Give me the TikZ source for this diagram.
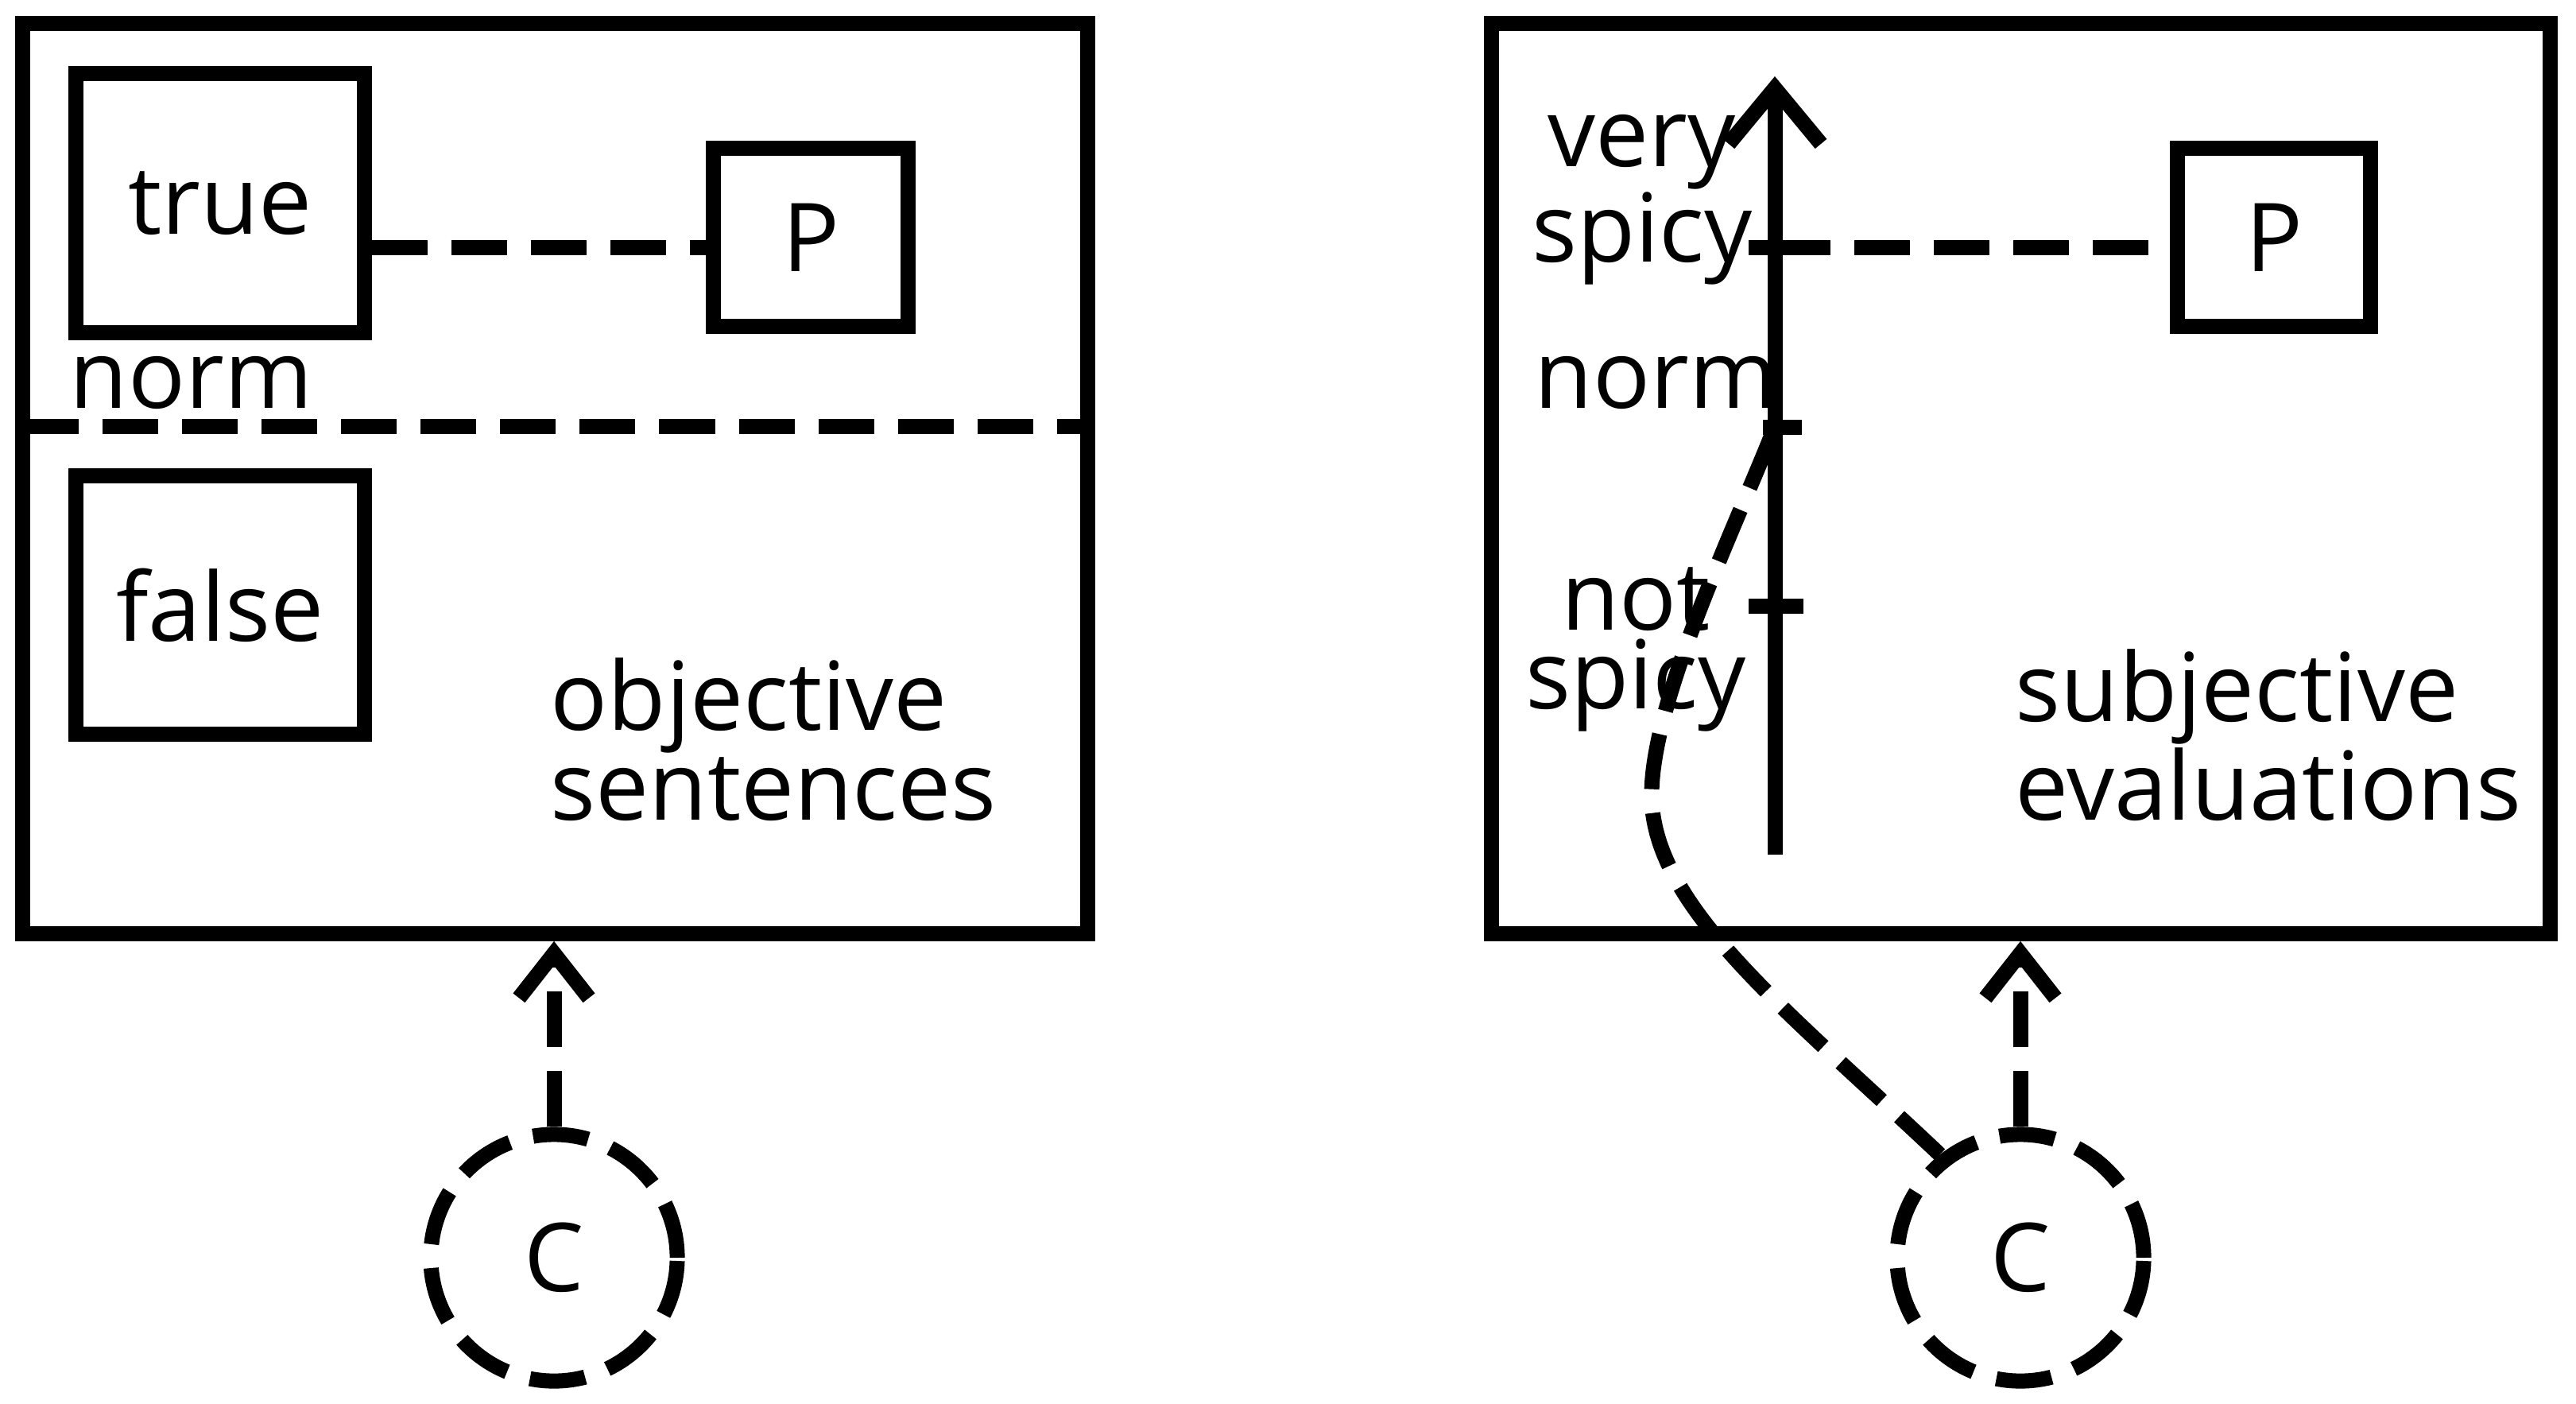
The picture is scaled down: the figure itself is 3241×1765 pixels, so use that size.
\documentclass[tikz,border=0pt]{standalone}
\usepackage{fontspec}
\setmainfont{Open Sans}
\usetikzlibrary{arrows.meta}
\begin{document}
\begin{tikzpicture}[x=0.01cm,y=-0.01cm,
  lw/.style={line width=0.19cm},
  box/.style={draw,lw,inner sep=0pt},
  dsh/.style={lw,dash pattern=on 0.7cm off 0.3cm},
  lab/.style={font=\fontsize{34}{32}\selectfont,inner sep=0pt},
  labt/.style={font=\fontsize{34}{28}\selectfont,inner sep=0pt},
  arr/.style={-{Straight Barb[length=0.56cm,width=0.88cm]}},
  axarr/.style={-{Straight Barb[length=0.7cm,width=1.16cm]}}]
\useasboundingbox (0,0) rectangle (3241,1765);
% left panel
\node[box,minimum width=13.39cm,minimum height=11.44cm] (L) at (698.5,602) {};
\node[box,lab,minimum width=3.62cm,minimum height=3.25cm] (T) at (277,255.5) {true};
\node[box,lab,minimum width=3.62cm,minimum height=3.24cm] (F) at (277,761) {false};
\node[box,lab,minimum width=2.44cm,minimum height=2.23cm] (P1) at (1020,298.5) {P};
\coordinate (dl) at (29,536);
\coordinate (dr) at (1368,536);
\draw[dsh] (dl) -- (dr);
\node[lab,anchor=base west] (normL) at (87,513) {norm};
\node[lab,anchor=base west,align=left] (objL) at (692,1031) {objective\\sentences};
\node[draw,circle,dsh,lab,minimum size=3.1cm] (Cl) at (697,1582) {C};
\draw[dsh,arr] (Cl.north) -- (Cl.north |- L.south);
% right panel
\node[box,minimum width=13.31cm,minimum height=11.44cm] (R) at (2542.5,602) {};
\node[box,lab,minimum width=2.42cm,minimum height=2.23cm] (P2) at (2861,298.5) {P};
\coordinate (axb) at (2233,1075);
\coordinate (axt) at (2233,96);
\coordinate (vs) at (2233,311);
\coordinate (nm) at (2233,537);
\coordinate (ns) at (2233,762);
\draw[lw,axarr] (axb) -- (axt);
\draw[lw] ([xshift=-0.33cm]vs) -- ([xshift=0.33cm]vs);
\draw[lw] ([xshift=-0.15cm]nm) -- ([xshift=0.34cm]nm);
\draw[lw] ([xshift=-0.33cm]ns) -- ([xshift=0.36cm]ns);
\draw[dsh] (T.east |- vs) -- (P1.west |- vs);
\draw[dsh] (vs) -- (P2.west |- vs);
\node[labt,anchor=base,align=center] (vsL) at (2066,329) {very\\spicy};
\node[lab,anchor=base west] (normR) at (1930,513) {norm};
\node[labt,anchor=base,align=center] (nsL) at (2058,891) {not\\spicy};
\node[lab,anchor=base west,align=left] (subL) at (2535,1031) {subjective\\evaluations};
\node[draw,circle,dsh,lab,minimum size=3.1cm] (Cr) at (2542,1582) {C};
\draw[dsh,arr] (Cr.north) -- (Cr.north |- R.south);
\draw[dsh] (Cr.128) .. controls (2248,1270) and (2078,1140) .. (2078,1000)
  .. controls (2078,880) and (2183,664) .. (nm);
\end{tikzpicture}
\end{document}
